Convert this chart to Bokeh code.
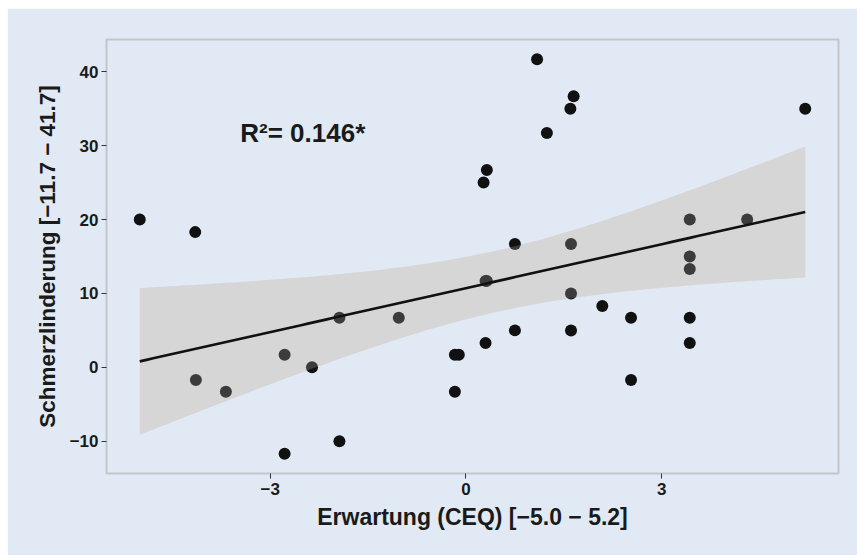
import numpy as np
from bokeh.plotting import figure
from bokeh.models import FixedTicker, Range1d, Label
from bokeh.embed import file_html
from bokeh.resources import INLINE

# ---- data ----
erwartung = [-5.0, -4.15, -4.14, -3.68, -2.78, -2.78, -2.36, -1.94, -1.94, -1.03,
             -0.17, -0.17, -0.11, 0.27, 0.32, 0.30, 0.32, 0.30, 0.75, 0.75,
             1.09, 1.24, 1.60, 1.65, 1.61, 1.61, 1.61, 2.09, 2.53, 2.53,
             3.43, 3.43, 3.43, 3.43, 3.43, 4.31, 5.2]
schmerz = [20.0, 18.3, -1.7, -3.3, 1.7, -11.7, 0.0, 6.7, -10.0, 6.7,
           -3.3, 1.7, 1.7, 25.0, 26.7, 11.7, 11.7, 3.3, 16.7, 5.0,
           41.7, 31.7, 35.0, 36.7, 16.7, 10.0, 5.0, 8.3, 6.7, -1.7,
           20.0, 15.0, 13.3, 6.7, 3.3, 20.0, 35.0]
x_ticks = [-3, 0, 3]
x_tick_labels = ["\u22123", "0", "3"]
y_ticks = [-10, 0, 10, 20, 30, 40]
y_tick_labels = ["\u221210", "0", "10", "20", "30", "40"]
x_title = "Erwartung (CEQ) [\u22125.0 \u2212 5.2]"
y_title = "Schmerzlinderung [\u221211.7 \u2212 41.7]"
r2_text = "R\u00b2= 0.146*"

# ---- linear fit with 95% confidence band ----
x = np.array(erwartung)
y = np.array(schmerz)
n = len(x)
b1, b0 = np.polyfit(x, y, 1)
xs = np.linspace(x.min(), x.max(), 100)
yhat = b0 + b1 * xs
resid = y - (b0 + b1 * x)
s = np.sqrt(np.sum(resid ** 2) / (n - 2))
sxx = np.sum((x - x.mean()) ** 2)
se = s * np.sqrt(1.0 / n + (xs - x.mean()) ** 2 / sxx)
t_crit = 2.03
lo = yhat - t_crit * se
hi = yhat + t_crit * se

xr = x.max() - x.min()
yr = y.max() - y.min()

BG = "#e1eaf4"
FONT = "Liberation Sans, Arial, Helvetica, sans-serif"
TXT = "#1a1a1a"

p = figure(width=850, height=547, output_backend="svg", toolbar_location=None,
           x_range=Range1d(x.min() - 0.05 * xr, x.max() + 0.05 * xr),
           y_range=Range1d(y.min() - 0.05 * yr, y.max() + 0.05 * yr),
           min_border_left=99, min_border_right=19, min_border_top=31, min_border_bottom=82)
p.margin = (8, 0, 0, 7)
p.background_fill_color = BG
p.border_fill_color = BG
p.outline_line_color = "#c3c6c9"
p.outline_line_width = 2
p.xgrid.visible = False
p.ygrid.visible = False

# band underlay, points, band overlay (dims points beneath), fit line
p.varea(x=xs, y1=lo, y2=hi, fill_color="#d6d6d6", fill_alpha=1.0)
p.scatter(x=erwartung, y=schmerz, size=12, fill_color="#111111", line_color=None)
p.varea(x=xs, y1=lo, y2=hi, fill_color="#d6d6d6", fill_alpha=0.22)
p.line(x=xs, y=yhat, line_color="#111111", line_width=2.6)

for ax, ticks, labels in ((p.xaxis[0], x_ticks, x_tick_labels), (p.yaxis[0], y_ticks, y_tick_labels)):
    ax.ticker = FixedTicker(ticks=ticks)
    ax.major_label_overrides = {t: l for t, l in zip(ticks, labels)}
    ax.axis_line_color = None
    ax.major_tick_line_color = "#333333"
    ax.major_tick_line_width = 1
    ax.major_tick_out = 5
    ax.major_tick_in = 0
    ax.minor_tick_line_color = None
    ax.major_label_text_font = FONT
    ax.major_label_text_font_style = "bold"
    ax.major_label_text_font_size = "17px"
    ax.major_label_text_color = TXT
    ax.axis_label_text_font = FONT
    ax.axis_label_text_font_style = "bold"
    ax.axis_label_text_color = TXT

p.xaxis.axis_label = x_title
p.xaxis.axis_label_text_font_size = "23px"
p.xaxis.major_label_standoff = 4
p.xaxis.axis_label_standoff = 6
p.yaxis.axis_label = y_title
p.yaxis.axis_label_text_font_size = "22.5px"
p.yaxis.major_label_standoff = 3
p.yaxis.axis_label_standoff = 7

p.add_layout(Label(x=-3.46, y=31.75, text=r2_text, text_font=FONT, text_font_style="bold",
                   text_font_size="26px", text_color=TXT, text_baseline="alphabetic",
                   text_align="left"))

open("out.html", "w").write(file_html(p, INLINE))
